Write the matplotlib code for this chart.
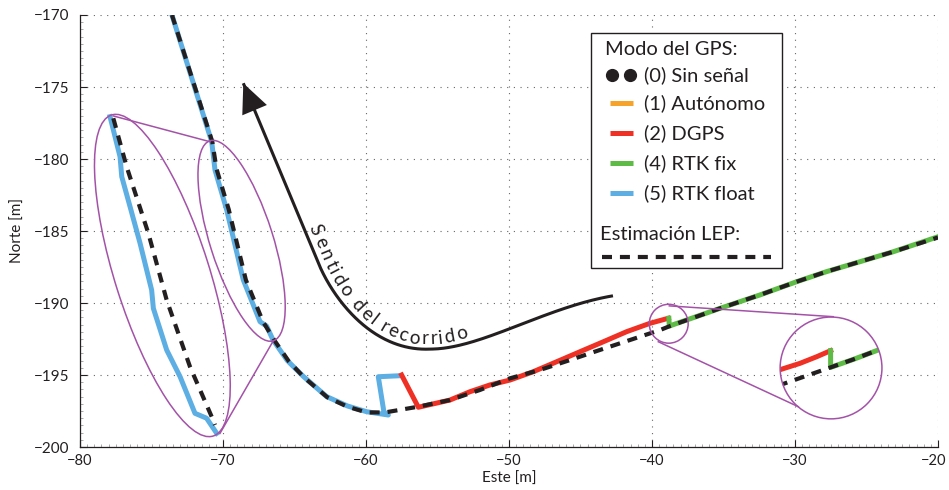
import numpy as np
import matplotlib
matplotlib.use('Agg')
import matplotlib.pyplot as plt
from matplotlib.patches import Ellipse, Rectangle
from matplotlib.path import Path
from matplotlib.textpath import TextToPath
from matplotlib.font_manager import FontProperties

plt.rcParams['font.family'] = ['Lato', 'DejaVu Sans']

# ---------------- data ----------------
# (5) RTK float track
blue_e = [-73.57, -70.79, -70.56, -69.74, -68.58, -67.41, -66.95, -66.5, -65.5, -64.38,
          -62.75, -61.3, -59.95, -58.44, -58.75, -59.14, -57.62]
blue_n = [-170.0, -178.8, -180.76, -183.54, -188.4, -191.3, -191.6, -192.57, -194.0, -195.1,
          -196.5, -197.15, -197.55, -197.78, -197.55, -195.12, -195.05]
# (2) DGPS track
red_e = [-57.51, -56.34, -54.13, -52.73, -51.33, -49.93, -48.3, -46.67, -45.03, -43.4,
         -41.77, -40.14, -38.86]
red_n = [-195.0, -197.24, -196.74, -196.16, -195.69, -195.35, -194.77, -194.08, -193.38, -192.69,
         -191.99, -191.41, -191.06]
# (4) RTK fix track
green_e = [-38.82, -38.79, -35.24, -32.45, -29.88, -27.79, -25.45, -23.13, -20.0]
green_n = [-191.06, -191.6, -190.37, -189.44, -188.52, -187.82, -187.13, -186.44, -185.4]
# LEP estimate
lep_e = [-73.57, -70.75, -70.45, -69.6, -68.4, -67.2, -66.4, -65.4, -64.3, -62.7, -61.3,
         -59.95, -58.67, -56.34, -54.13, -52.03, -49.93, -47.83, -45.73, -43.64, -41.54,
         -39.44, -38.74, -35.24, -32.45, -29.88, -27.79, -25.45, -23.13, -20.0]
lep_n = [-170.0, -178.8, -180.7, -183.5, -188.4, -191.3, -192.6, -194.05, -195.2, -196.55, -197.2,
         -197.6, -197.6, -197.2, -196.74, -196.04, -195.23, -194.65, -193.96, -193.26, -192.57,
         -191.88, -191.6, -190.37, -189.44, -188.52, -187.82, -187.13, -186.44, -185.45]

# zoomed view (ellipse)
zoom_blue_e = [-77.9, -77.2, -77.08, -76.5, -75.8, -74.99, -74.87, -73.94, -73.0, -71.96, -71.15, -70.44]
zoom_blue_n = [-177.06, -179.84, -181.23, -183.31, -185.85, -189.1, -190.37, -193.26, -195.12,
               -197.66, -198.0, -199.05]
zoom_lep_e = [-77.67, -76.74, -75.22, -73.94, -72.31, -70.79, -70.56]
zoom_lep_n = [-177.17, -180.53, -185.16, -189.79, -194.42, -197.9, -198.47]

# zoomed view (circle)
zc_red_e = [-31.2, -29.65, -28.48, -27.51]
zc_red_n = [-194.68, -194.19, -193.73, -193.31]
zc_green_e = [-27.51, -27.51, -25.93, -24.17, -23.0]
zc_green_n = [-193.31, -194.47, -193.92, -193.26, -192.85]
zc_lep_e = [-31.2, -27.51, -25.93, -24.17, -23.0]
zc_lep_n = [-195.75, -194.47, -193.92, -193.26, -192.85]

legend_labels = ['(0) Sin señal', '(1) Autónomo', '(2) DGPS', '(4) RTK fix', '(5) RTK float']
xticks = [-80, -70, -60, -50, -40, -30, -20]
yticks = [-200, -195, -190, -185, -180, -175, -170]

BLUE = '#5DAEE2'
RED = '#EE3124'
GREEN = '#5DBB46'
ORANGE = '#F6A32B'
BLACK = '#231F20'
PURPLE = '#A352A8'

DPI = 100
fig = plt.figure(figsize=(9.49, 4.9), dpi=DPI)
ax = fig.add_axes([80/949, 1-447/490, 858/949, 432/490])
ax.set_xlim(-80, -20)
ax.set_ylim(-200, -170)

def tick_text(v):
    return f'\u2212{abs(v)}'

# axes style
for s in ['top', 'right']:
    ax.spines[s].set_visible(False)
for s in ['left', 'bottom']:
    ax.spines[s].set_color(BLACK)
    ax.spines[s].set_linewidth(0.9)
ax.set_xticks(xticks)
ax.set_yticks(yticks)
# last x label is drawn separately so that it stays inside the canvas
ax.set_xticklabels([tick_text(v) for v in xticks[:-1]] + [''])
ax.set_yticklabels([tick_text(v) for v in yticks])
ax.set_xticks(np.arange(-80, -19.9, 0.5), minor=True)
ax.set_yticks(np.arange(-200, -169.9, 0.5), minor=True)
ax.tick_params(which='major', direction='in', length=5, width=0.8, color=BLACK,
               labelsize=11, labelcolor=BLACK)
ax.tick_params(axis='x', which='major', pad=5, labelsize=10.5)
ax.tick_params(axis='y', which='major', pad=8)
ax.tick_params(which='minor', direction='in', length=2, width=0.5, color='#888888')
ax.grid(True, which='major', linestyle=(0, (1, 5)), color='#666666', linewidth=0.8)
ax.set_xlabel('Este [m]', fontsize=11, color=BLACK, labelpad=3)
ax.set_ylabel('Norte [m]', fontsize=11, color=BLACK, labelpad=6)
ax.annotate(tick_text(xticks[-1]), xy=(xticks[-1], -200), xytext=(6.3, -5),
            textcoords='offset points', ha='right', va='top', fontsize=10.5,
            color=BLACK, annotation_clip=False)

lw_c = 3.6
dash = (2.4, 1.9)
ax.plot(blue_e, blue_n, color=BLUE, lw=lw_c, zorder=3)
ax.plot(red_e, red_n, color=RED, lw=lw_c, zorder=3)
ax.plot(green_e, green_n, color=GREEN, lw=lw_c, zorder=3)
ax.plot(lep_e, lep_n, color=BLACK, lw=3.0, dashes=dash, zorder=4)

# ellipse zoom
ax.plot(zoom_blue_e, zoom_blue_n, color=BLUE, lw=lw_c, zorder=3)
ax.plot(zoom_lep_e, zoom_lep_n, color=BLACK, lw=3.0, dashes=dash, zorder=4)
big_ell = Ellipse((-74.24, -188.09), width=2*11.7, height=2*3.3, angle=-72.3,
                  fill=False, ec=PURPLE, lw=1.1, zorder=5)
small_ell = Ellipse((-68.7, -185.68), width=2*7.29, height=2*2.2, angle=-72.3,
                    fill=False, ec=PURPLE, lw=1.1, zorder=5)
ax.add_patch(big_ell)
ax.add_patch(small_ell)
ax.plot([-77.67, -70.91], [-177.01, -178.8], color=PURPLE, lw=1.1, zorder=5)
ax.plot([-70.21, -66.48], [-199.05, -192.62], color=PURPLE, lw=1.1, zorder=5)

# circle zoom
small_c = Ellipse((-38.83, -191.44), width=2*1.36, height=2*1.36*14.3/14.4,
                  fill=False, ec=PURPLE, lw=1.1, zorder=5)
big_c = Ellipse((-27.48, -194.51), width=2*3.56, height=2*3.56*14.3/14.4,
                fill=False, ec=PURPLE, lw=1.1, zorder=5)
ax.add_patch(small_c)
ax.add_patch(big_c)
l1, = ax.plot(zc_red_e, zc_red_n, color=RED, lw=lw_c, zorder=3)
l2, = ax.plot(zc_green_e, zc_green_n, color=GREEN, lw=lw_c, zorder=3)
l3, = ax.plot(zc_lep_e, zc_lep_n, color=BLACK, lw=3.0, dashes=dash, zorder=4)
for l in (l1, l2, l3):
    l.set_clip_path(big_c)
ax.plot([-38.79, -27.33], [-190.2, -190.95], color=PURPLE, lw=1.1, zorder=5)
ax.plot([-39.56, -29.77], [-192.69, -197.2], color=PURPLE, lw=1.1, zorder=5)

# direction arrow (curve)
tip = (-68.58, -174.74)
verts = [tip, (-63.3, -187.3), (-62.33, -189.6), (-59.6, -193.4), (-55.5, -193.2),
         (-52.0, -193.2), (-47.5, -190.3), (-42.73, -189.5)]
codes = [Path.MOVETO, Path.LINETO, Path.CURVE4, Path.CURVE4, Path.CURVE4,
         Path.CURVE4, Path.CURVE4, Path.CURVE4]
apath = Path(verts, codes)
pts = []
for seg, code in apath.iter_bezier():
    pts.append(seg(np.linspace(0, 1, 120)))
pts = np.vstack(pts)
ax.plot(pts[:, 0], pts[:, 1], color=BLACK, lw=2.2, zorder=6, solid_capstyle='butt')
ax.annotate('', xy=tip, xytext=(-67.9, -176.35),
            arrowprops=dict(arrowstyle='-|>,head_length=1.05,head_width=0.48',
                            mutation_scale=20, color=BLACK, lw=0, shrinkA=0, shrinkB=0),
            zorder=7)

# text along the curve
label = 'Sentido del recorrido'
fsz = 13.5
fp = FontProperties(family=['Lato', 'DejaVu Sans'], size=fsz)
ttp = TextToPath()
def wpx(s):
    if s == '':
        return 0.0
    return ttp.get_text_width_height_descent(s, fp, ismath=False)[0] * DPI / 72

disp = ax.transData.transform(pts)
seglen = np.hypot(np.diff(disp[:, 0]), np.diff(disp[:, 1]))
arc = np.concatenate([[0], np.cumsum(seglen)])

def nearest_arc(pt):
    d = ax.transData.transform(pt)
    i = np.argmin(np.hypot(disp[:, 0]-d[0], disp[:, 1]-d[1]))
    return arc[i]

s0 = nearest_arc((-64.2, -185.2))
s1 = nearest_arc((-53.0, -193.1))
centers = []
for i, c in enumerate(label):
    right = wpx(label[:i+1]) if c != ' ' else None
    centers.append(None if c == ' ' else right - wpx(c)/2)
valid = [c for c in centers if c is not None]
c0, c1 = valid[0], valid[-1]
offset = 5.0
inv = ax.transData.inverted()
for ch, cc in zip(label, centers):
    if cc is None:
        continue
    s = s0 + (cc - c0) / (c1 - c0) * (s1 - s0)
    x = np.interp(s, arc, disp[:, 0])
    y = np.interp(s, arc, disp[:, 1])
    x2 = np.interp(s + 2, arc, disp[:, 0])
    y2 = np.interp(s + 2, arc, disp[:, 1])
    x1 = np.interp(s - 2, arc, disp[:, 0])
    y1 = np.interp(s - 2, arc, disp[:, 1])
    dx, dy = x2 - x1, y2 - y1
    n = np.hypot(dx, dy)
    nx, ny = -dy / n, dx / n
    px, py = x + nx * offset, y + ny * offset
    dxp, dyp = inv.transform((px, py))
    ang = np.degrees(np.arctan2(dy, dx))
    ax.text(dxp, dyp, ch, rotation=ang, rotation_mode='anchor', ha='center', va='baseline',
            fontsize=fsz, color=BLACK, zorder=6, family=['Lato', 'DejaVu Sans'])

# legend (manual box)
T = ax.transAxes
def fx(px):
    return (px - 80) / 858
def fy(py):
    return (447 - py) / 432
box = Rectangle((fx(591), fy(268)), fx(782) - fx(591), fy(33) - fy(268), transform=T,
                fc='white', ec=BLACK, lw=1.0, zorder=10)
ax.add_patch(box)
lfs = 14.5
ax.text(fx(605), fy(50), 'Modo del GPS:', transform=T, fontsize=lfs, color=BLACK,
        va='center', ha='left', zorder=11)
rows = [75, 103.3, 133.3, 163.3, 193.3]
cols = [None, ORANGE, RED, GREEN, BLUE]
for r, col, lab in zip(rows, cols, legend_labels):
    if col is None:
        ax.plot([fx(612), fx(630.5)], [fy(r), fy(r)], 'o', color=BLACK, ms=8.5,
                transform=T, zorder=11, clip_on=False)
    else:
        ax.plot([fx(610), fx(633)], [fy(r), fy(r)], color=col, lw=lw_c, transform=T,
                zorder=11, clip_on=False, solid_capstyle='butt')
    ax.text(fx(644), fy(r), lab, transform=T, fontsize=lfs, color=BLACK, va='center',
            ha='left', zorder=11)
ax.text(fx(600), fy(235), 'Estimación LEP:', transform=T, fontsize=lfs, color=BLACK,
        va='center', ha='left', zorder=11)
ax.plot([fx(601.7), fx(771)], [fy(256.7), fy(256.7)], color=BLACK, lw=3.0, dashes=dash,
        transform=T, zorder=11, clip_on=False, solid_capstyle='butt', dash_capstyle='butt')

fig.savefig('out.png', dpi=DPI)
